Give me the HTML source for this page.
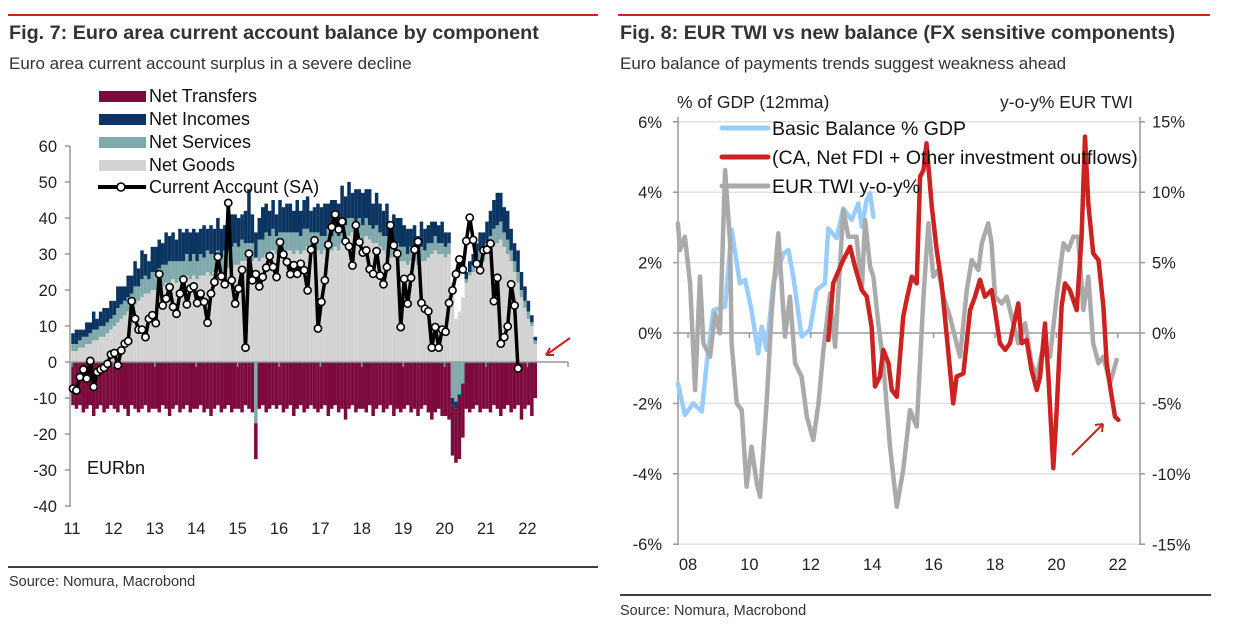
<!DOCTYPE html>
<html><head><meta charset="utf-8">
<style>
body{margin:0;background:#fff;}
svg{display:block;font-family:"Liberation Sans",Arial,sans-serif;}
</style></head>
<body>
<svg id="root" width="1235" height="625" viewBox="0 0 1235 625">
<line x1="8" y1="15" x2="598" y2="15" stroke="#cc2222" stroke-width="2"/>
<text x="9" y="39" font-size="19.8" font-weight="bold" fill="#333">Fig. 7: Euro area current account balance by component</text>
<text x="9" y="69" font-size="17" fill="#333">Euro area current account surplus in a severe decline</text>
<line x1="8" y1="567" x2="598" y2="567" stroke="#000" stroke-width="1.5"/>
<text x="9" y="586" font-size="14.5" fill="#333">Source: Nomura, Macrobond</text>
<line x1="618" y1="15" x2="1210" y2="15" stroke="#cc2222" stroke-width="2"/>
<text x="620" y="39" font-size="19.8" font-weight="bold" fill="#333">Fig. 8: EUR TWI vs new balance (FX sensitive components)</text>
<text x="620" y="69" font-size="17" fill="#333">Euro balance of payments trends suggest weakness ahead</text>
<line x1="620" y1="595" x2="1211" y2="595" stroke="#000" stroke-width="1.5"/>
<text x="620" y="615" font-size="14.5" fill="#333">Source: Nomura, Macrobond</text>
<g id="left"></g>
<g id="right"></g>
</svg>
<script>
// ===== Fig 7 data (EUR bn, monthly from Jan 2011) =====
const goods = [3,3,4,4,5,5,6,6,7,7,8,9, 10,11,12,13,14,15,16,17,18,19,19,20, 20,21,21,22,22,23,22,23,23,24,23,24, 23,24,24,25,24,25,25,24,25,26,26,27, 27,28,28,27,28,29,28,29,30,30,31,30, 31,30,31,31,30,31,30,31,32,31,30,31, 30,31,32,31,32,31,33,34,35,36,35,35, 34,35,34,33,33,32,31,30,29,29,28,28, 28,27,28,28,27,28,28,29,30,31,30,30, 29,30,22,12,14,18,22,24,25,27,28,28, 30,31,32,33,34,32,30,28,25,22,18,15, 12,10,5];
const services = [2,2,2,3,2,3,3,3,3,3,3,3, 3,4,4,4,4,4,5,4,5,5,4,5, 5,5,6,5,6,5,6,5,5,6,5,6, 5,6,5,6,6,5,6,5,6,5,6,6, 5,6,5,6,5,-17,6,5,6,5,6,5, 5,6,5,5,6,5,5,6,5,5,6,5, 5,4,5,4,5,4,5,4,5,4,4,5, 4,5,4,4,5,4,4,5,4,4,5,4, 4,3,4,4,3,4,3,4,3,4,3,3, 3,3,-10,-11,-9,-6,1,1,2,2,3,3, 3,4,5,5,5,4,4,3,3,3,2,2, 2,1,1];
const incomes = [3,4,3,2,4,3,5,3,4,5,4,5, 4,6,5,4,6,5,7,5,8,6,5,7, 7,8,6,9,7,8,6,9,8,7,8,7, 8,7,9,6,8,7,9,8,7,6,9,8, 8,7,9,15,8,7,6,9,8,7,8,6, 9,7,8,8,6,9,7,8,9,6,7,8, 8,9,7,10,8,9,11,8,10,7,9,8, 9,8,10,7,9,8,7,9,6,8,7,8, 6,7,5,6,5,7,6,5,6,4,5,6, 4,3,-2,-2,-1,0,2,3,3,4,5,5, 6,7,8,9,8,7,8,6,5,6,5,4, 3,2,1];
const transfers = [-12,-13,-12,-14,-13,-12,-15,-13,-12,-14,-13,-12, -13,-14,-12,-13,-15,-12,-13,-14,-13,-12,-14,-13, -13,-14,-12,-13,-15,-13,-12,-14,-13,-12,-14,-13, -13,-12,-14,-13,-15,-13,-12,-14,-13,-12,-14,-13, -13,-14,-12,-13,-14,-10,-13,-12,-14,-13,-12,-13, -12,-14,-13,-12,-15,-13,-12,-14,-13,-12,-13,-14, -13,-12,-15,-13,-12,-14,-13,-16,-13,-12,-14,-13, -13,-14,-12,-15,-13,-12,-14,-13,-12,-15,-13,-14, -13,-12,-14,-13,-15,-13,-12,-14,-16,-14,-13,-15, -15,-16,-14,-15,-17,-15,-13,-14,-13,-12,-14,-13, -13,-14,-12,-13,-15,-13,-12,-14,-13,-12,-16,-13, -12,-15,-10];
const currentAccount = [-7.4,-7.9,-4.2,-2.1,-4.6,0.3,-6.9,-2.8,-2.1,-1.6,-0.5,2.1, 2.5,-0.9,3.2,5.1,5.8,16.9,12,9,9,6.9,12,13, 10.8,24.4,15.7,17.6,20.8,15.3,13.4,19,22.9,16,20.4,21, 16.4,19,16.7,10.9,19,22.2,29.2,23.8,21.6,44.2,22.7,16.2, 20.4,25.6,4,30.1,22.7,24.4,21,23.6,26.2,29.4,26.4,23.6, 33.3,29.9,27.8,24.4,26.9,24.5,27.3,25.5,19.9,31.2,33.8,9.3, 16.7,22.7,32.6,37.5,41,36.8,39,33.5,32.1,26.8,38,33.3, 30.4,31,25.8,24.5,30.8,24,21.6,26.4,38,32.4,30.1,9.7, 23.1,16.2,23.4,31.2,33.4,16.4,14.8,14.1,4,9.7,4,9, 8.4,16.4,19.9,24.4,28.5,25.7,33.6,40.1,33.9,27.3,25.5,31, 31.2,32.9,16.9,23.4,5.1,6.9,9.9,21.6,15.7,-1.8];
const leftTicks = [60,50,40,30,20,10,0,-10,-20,-30,-40];
const leftYears = ["11","12","13","14","15","16","17","18","19","20","21","22"];

// ===== Fig 8 data =====
const bbDates = [2007.67,2007.90,2008.17,2008.45,2008.61,2008.83,2009.21,2009.42,2009.69,2009.86,2010.07,2010.29,2010.40,2010.56,2010.78,2011.11,2011.27,2011.43,2011.70,2011.97,2012.19,2012.46,2012.57,2012.84,2013.06,2013.33,2013.55,2013.66,2013.82,2013.93,2014.04];
const bbValues = [-1.43,-2.33,-2.0,-2.23,-0.86,0.65,0.75,2.93,1.41,1.51,0.65,-0.58,0.18,-0.48,1.41,2.26,2.36,1.6,-0.1,0.09,1.22,1.41,2.97,2.69,3.54,3.21,3.68,3.02,3.78,3.97,3.3];
const caDates = [2012.57,2012.73,2013.06,2013.28,2013.44,2013.66,2013.82,2013.98,2014.09,2014.25,2014.36,2014.53,2014.64,2014.8,2015.01,2015.12,2015.29,2015.45,2015.56,2015.67,2015.77,2015.94,2016.1,2016.26,2016.43,2016.64,2016.75,2016.97,2017.19,2017.35,2017.51,2017.67,2017.89,2018.0,2018.16,2018.33,2018.49,2018.6,2018.76,2018.87,2019.03,2019.19,2019.36,2019.47,2019.63,2019.74,2019.9,2020.01,2020.17,2020.28,2020.44,2020.66,2020.82,2020.93,2021.04,2021.2,2021.37,2021.53,2021.64,2021.75,2021.91,2022.02];
const caValues = [-0.2,1.41,2.08,2.45,1.88,1.22,1.04,0.18,-1.52,-1.24,-0.48,-0.86,-1.62,-1.81,0.46,0.94,1.6,1.41,4.44,4.63,5.39,3.59,2.36,1.41,-0.1,-2.0,-1.24,-1.15,0.65,1.03,1.51,1.03,1.22,0.65,-0.29,-0.48,-0.29,0.18,0.84,-0.29,-0.2,-1.05,-1.62,-1.24,0.27,-1.24,-3.84,-2.19,0.75,1.41,1.22,0.65,2.74,5.58,3.68,2.26,2.07,0.75,-0.86,-1.52,-2.38,-2.47];
const twiDates = [2007.67,2007.74,2007.9,2008.07,2008.23,2008.39,2008.5,2008.72,2008.88,2009.04,2009.21,2009.37,2009.42,2009.59,2009.75,2009.91,2010.07,2010.24,2010.35,2010.56,2010.73,2010.94,2011.16,2011.32,2011.49,2011.7,2011.87,2012.08,2012.25,2012.41,2012.63,2012.79,2013.06,2013.22,2013.49,2013.66,2013.77,2013.93,2014.04,2014.2,2014.36,2014.58,2014.8,2015.01,2015.23,2015.45,2015.67,2015.83,2015.99,2016.15,2016.32,2016.53,2016.75,2016.86,2017.08,2017.24,2017.46,2017.57,2017.78,2017.89,2018.0,2018.22,2018.38,2018.54,2018.76,2018.98,2019.19,2019.36,2019.52,2019.79,2020.01,2020.23,2020.39,2020.55,2020.71,2020.88,2021.04,2021.2,2021.37,2021.53,2021.75,2021.96];
const twiValues = [7.78,5.89,6.83,3.52,-4.04,4.0,-0.73,-1.68,1.39,-0.02,11.56,6.36,-0.73,-4.99,-5.46,-10.9,-8.06,-10.66,-11.61,-4.99,1.63,7.07,-0.26,2.58,-2.15,-3.1,-5.93,-7.59,-4.99,-1.21,2.81,-0.97,8.72,6.83,6.83,3.05,8.01,4.7,4.0,0.69,-2.15,-8.06,-12.32,-9.72,-5.46,-6.64,2.58,7.78,4.0,4.47,2.58,1.16,-0.73,-1.68,3.05,5.18,4.47,6.36,7.78,6.36,2.58,2.1,2.58,1.16,-0.73,0.69,-2.15,-3.1,-1.44,-1.68,2.58,6.36,5.89,6.83,6.83,1.63,4.0,-0.73,-2.15,-1.68,-3.57,-1.91];
const leftPctTicks = [6,4,2,0,-2,-4,-6];
const rightPctTicks = [15,10,5,0,-5,-10,-15];
const rightYears = [2008,2010,2012,2014,2016,2018,2020,2022];

const NS="http://www.w3.org/2000/svg";
function mk(parent,tag,attrs,txt){const e=document.createElementNS(NS,tag);for(const k in attrs)e.setAttribute(k,attrs[k]);if(txt!==undefined)e.textContent=txt;parent.appendChild(e);return e;}
const FS=16.5;

// ----- Fig 7 -----
(function(){
const g=document.getElementById('left');
const y=v=>362-v*3.6;
const x=i=>73+i*3.45;
const bw=3.5;
const cols={g:"#d3d3d3",s:"#7fa9ab",i:"#0b3560",t:"#7d0a3c"};
const n=Math.min(goods.length,services.length,incomes.length,transfers.length);
for(let i=0;i<n;i++){
  let pos=0,neg=0;
  const parts=[["g",goods[i],"goods"],["s",services[i],"services"],["i",incomes[i],"incomes"],["t",transfers[i],"transfers"]];
  for(const p of parts){
    const v=p[1];let y0,y1;
    if(v>=0){y0=pos;y1=pos+v;pos=y1;}else{y0=neg;y1=neg+v;neg=y1;}
    const r=mk(g,'rect',{x:x(i)-bw/2,y:Math.min(y(y0),y(y1)),width:bw,height:Math.abs(y(y0)-y(y1)),fill:cols[p[0]]});
    
    
  }
}
const ax=mk(g,'line',{x1:70,y1:146,x2:70,y2:507,stroke:"#999","stroke-width":1.5});


leftTicks.forEach(t=>{
  mk(g,'line',{x1:65,y1:y(t),x2:70,y2:y(t),stroke:"#999","stroke-width":1.5});
  const tx=mk(g,'text',{x:57,y:y(t)+6,"text-anchor":"end","font-size":FS,fill:"#222"},String(t));
  
  
});
const zx=mk(g,'line',{x1:70,y1:362,x2:568,y2:362,stroke:"#999","stroke-width":1.5});


leftYears.forEach((l,k)=>{
  const xx=x(k*12)-1;
  mk(g,'line',{x1:xx,y1:362,x2:xx,y2:367,stroke:"#999","stroke-width":1.5});
  const tx=mk(g,'text',{x:xx,y:534,"text-anchor":"middle","font-size":FS,fill:"#222"},l);
  
  
});
mk(g,'line',{x1:568,y1:362,x2:568,y2:367,stroke:"#999","stroke-width":1.5});
let d="";currentAccount.forEach((v,i)=>{d+=(i?"L":"M")+x(i).toFixed(1)+" "+y(v).toFixed(1);});
const ln=mk(g,'path',{d:d,fill:"none",stroke:"#000","stroke-width":3.5,"stroke-linejoin":"round"});


currentAccount.forEach((v,i)=>{
  const c=mk(g,'circle',{cx:x(i),cy:y(v),r:3.6,fill:"#fff",stroke:"#000","stroke-width":1.6});
  
  
});
const leg=[["#7d0a3c","Net Transfers"],["#0b3560","Net Incomes"],["#7fa9ab","Net Services"],["#d3d3d3","Net Goods"]];
leg.forEach((l,k)=>{
  const yy=96+k*23;
  const r=mk(g,'rect',{x:99,y:yy-5,width:47,height:11,fill:l[0]});
  
  
  const t=mk(g,'text',{x:149,y:yy+6,"font-size":18,fill:"#111"},l[1]);
  
  
});
mk(g,'line',{x1:98,y1:187,x2:146,y2:187,stroke:"#000","stroke-width":4});
mk(g,'circle',{cx:121,cy:187,r:4,fill:"#fff",stroke:"#000","stroke-width":1.6});
const tl=mk(g,'text',{x:149,y:193,"font-size":18,fill:"#111"},"Current Account (SA)");


const un=mk(g,'text',{x:87,y:474,"font-size":18,fill:"#111"},"EURbn");


const ar=mk(g,'path',{d:"M570 338 L546 355 M546 355 L554 355 M546 355 L550 348",stroke:"#cc2222","stroke-width":2,fill:"none"});


})();

// ----- Fig 8 -----
(function(){
const g=document.getElementById('right');
const x=yr=>688+(yr-2008)*30.7;
const yl=v=>333-v*35.2;
const yr_=v=>333-v*14.1;
leftPctTicks.forEach(t=>{
  const gl=mk(g,'line',{x1:678,y1:yl(t),x2:1140,y2:yl(t),stroke:t===0?"#999":"#e0e0e0","stroke-width":1.5});
  
  
  const tx=mk(g,'text',{x:662,y:yl(t)+6,"text-anchor":"end","font-size":FS,fill:"#222"},t+"%");
  
  
  mk(g,'line',{x1:673,y1:yl(t),x2:678,y2:yl(t),stroke:"#999","stroke-width":1.5});
  mk(g,'line',{x1:1140,y1:yl(t),x2:1145,y2:yl(t),stroke:"#999","stroke-width":1.5});
});
rightPctTicks.forEach(t=>{
  const tx=mk(g,'text',{x:1152,y:yr_(t)+6,"font-size":FS,fill:"#222"},t+"%");
  
  
});
const a1=mk(g,'line',{x1:678,y1:117,x2:678,y2:545,stroke:"#999","stroke-width":1.5});


const a2=mk(g,'line',{x1:1140,y1:117,x2:1140,y2:545,stroke:"#999","stroke-width":1.5});


rightYears.forEach(yv=>{
  mk(g,'line',{x1:x(yv),y1:333,x2:x(yv),y2:338,stroke:"#999","stroke-width":1.5});
  const tx=mk(g,'text',{x:x(yv),y:570,"text-anchor":"middle","font-size":FS,fill:"#222"},String(yv).slice(2));
  
  
});
const h1=mk(g,'text',{x:677,y:108,"font-size":17.5,fill:"#222"},"% of GDP (12mma)");


const h2=mk(g,'text',{x:1000,y:108,"font-size":17.5,fill:"#222","xml:space":"preserve"},"y-o-y%   EUR TWI");


function line(dates,vals,ys,color,name){
  let d="";dates.forEach((t,i)=>{d+=(i?"L":"M")+x(t).toFixed(1)+" "+ys(vals[i]).toFixed(1);});
  const p=mk(g,'path',{d:d,fill:"none",stroke:color,"stroke-width":4.5,"stroke-linejoin":"round","stroke-linecap":"round"});
  
  
}
line(bbDates,bbValues,yl,"#99ccff","basic-balance-line");
line(twiDates,twiValues,yr_,"#aaaaaa","eur-twi-line");
line(caDates,caValues,yl,"#cc2222","ca-fdi-other-line");
const leg=[["#99ccff","Basic Balance % GDP"],["#cc2222","(CA, Net FDI + Other investment outflows)"],["#aaaaaa","EUR TWI y-o-y%"]];
leg.forEach((l,k)=>{
  const yy=128+k*29;
  mk(g,'line',{x1:722,y1:yy,x2:768,y2:yy,stroke:l[0],"stroke-width":5,"stroke-linecap":"round"});
  const t=mk(g,'text',{x:772,y:yy+7,"font-size":19.5,fill:"#111"},l[1]);
  
  
});
const ar=mk(g,'path',{d:"M1072 455 L1103 424 M1103 424 L1095 425 M1103 424 L1102 432",stroke:"#cc2222","stroke-width":2,fill:"none"});


})();
</script>
</body></html>
